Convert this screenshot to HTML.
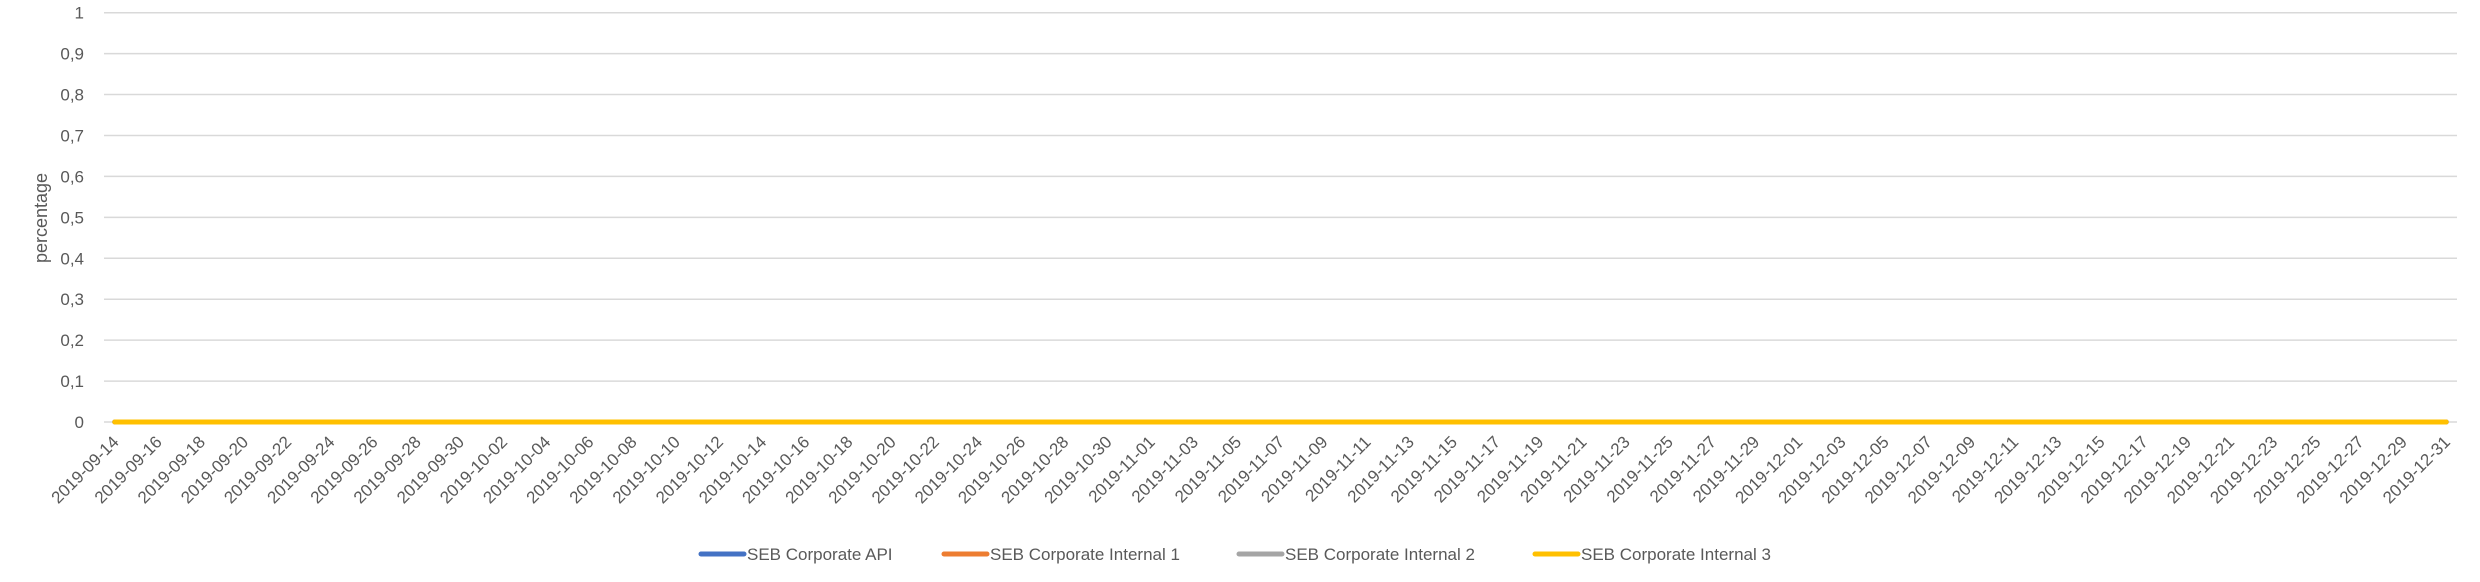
<!DOCTYPE html>
<html><head><meta charset="utf-8"><style>
html,body{margin:0;padding:0;background:#fff;}
svg{display:block;font-family:"Liberation Sans",sans-serif;}
</style></head><body>
<svg id="chart" width="2480" height="582" viewBox="0 0 2480 582">
<g id="grid"></g>
<g id="yticks"></g>
<g id="xticks"></g>
<g id="series"></g>
<text x="47" y="218" transform="rotate(-90 47 218)" text-anchor="middle" font-size="18" fill="#595959">percentage</text>
<g id="legend"></g>
</svg>
<script>
const startDate = "2019-09-14";
const dayCount = 109;
const yTicks = [0,0.1,0.2,0.3,0.4,0.5,0.6,0.7,0.8,0.9,1];
const yTickLabels = ["0","0,1","0,2","0,3","0,4","0,5","0,6","0,7","0,8","0,9","1"];
const seriesNames = ["SEB Corporate API","SEB Corporate Internal 1","SEB Corporate Internal 2","SEB Corporate Internal 3"];
const seriesColors = ["#4472c4","#ed7d31","#a5a5a5","#ffc000"];
const apiValues = new Array(109).fill(0);
const internal1Values = new Array(109).fill(0);
const internal2Values = new Array(109).fill(0);
const internal3Values = new Array(109).fill(0);
const seriesValues = [apiValues, internal1Values, internal2Values, internal3Values];

const categories = [];
{ const d0 = new Date(startDate + "T00:00:00Z");
  for (let i = 0; i < dayCount; i++) { const d = new Date(d0.getTime() + i*86400000); categories.push(d.toISOString().slice(0,10)); } }

const NS = "http://www.w3.org/2000/svg";
const L = 104, R = 2457, T = 12.7, B = 422;
const bw = (R - L) / categories.length;
const xs = i => L + bw * (i + 0.5);
const ys = v => B - (v / 1) * (B - T);
function mk(tag, attrs, parent, txt){ const e=document.createElementNS(NS,tag); for(const k in attrs) e.setAttribute(k,attrs[k]); if(txt!==undefined) e.textContent=txt; parent.appendChild(e); return e; }

const grid = document.getElementById('grid'), yt = document.getElementById('yticks');
yTicks.forEach((v,i)=>{
  const ln = mk('line',{x1:L,x2:R,y1:ys(v),y2:ys(v),stroke:'#d9d9d9','stroke-width':1.5},grid);
  
  
  const t = mk('text',{x:84,y:ys(v)+6,'text-anchor':'end','font-size':17,fill:'#595959'},yt,yTickLabels[i]);
  
  
});
const xt = document.getElementById('xticks');
categories.forEach((c,i)=>{
  if (i % 2) return;
  const x = xs(i) + 5, y = 443;
  const t = mk('text',{x:x,y:y,'text-anchor':'end','font-size':17,fill:'#595959',transform:`rotate(-45 ${x} ${y})`},xt,c);
  
  
});
const sg = document.getElementById('series');
seriesValues.forEach((vals,s)=>{
  const d = vals.map((v,i)=>(i?'L':'M')+xs(i).toFixed(1)+' '+ys(v).toFixed(1)).join(' ');
  const p = mk('path',{d:d,fill:'none',stroke:seriesColors[s],'stroke-width':5,'stroke-linecap':'round','stroke-linejoin':'round'},sg);
  
  
});
const lg = document.getElementById('legend');
const legX = [701, 944, 1239, 1535];
seriesNames.forEach((n,s)=>{
  const g = mk('g',{},lg);
  
  
  mk('line',{x1:legX[s],x2:legX[s]+43,y1:554,y2:554,stroke:seriesColors[s],'stroke-width':5,'stroke-linecap':'round'},g);
  mk('text',{x:legX[s]+46,y:560,'font-size':17,fill:'#595959'},g,n);
});
</script>
</body></html>
